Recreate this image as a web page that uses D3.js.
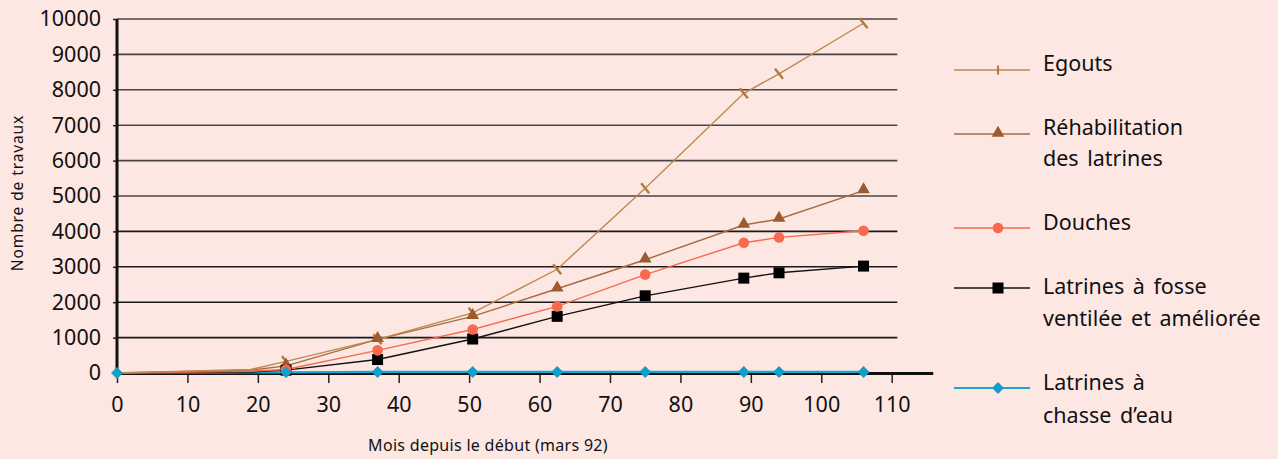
<!DOCTYPE html>
<html>
<head>
<meta charset="utf-8">
<script src="https://cdn.jsdelivr.net/npm/d3@7"></script>
<style>
  html, body { margin: 0; padding: 0; background: #fde7e3; }
  svg { display: block; font-family: "Noto Sans", "DejaVu Sans", sans-serif; }
</style>
</head>
<body>
<svg id="chart" width="1278" height="459"></svg>
<script>
// ---- data ----
const months = [0, 19, 24, 37, 50.5, 62.5, 75, 89, 94, 106];
const unmarkedMonths = [0, 19];        // no visible marker there (except Latrines à chasse d'eau at 0)
const egouts = [0, 100, 330, 950, 1700, 2930, 5220, 7900, 8450, 9880];
const rehabilitation = [0, 80, 200, 950, 1600, 2380, 3200, 4180, 4350, 5150];
const douches = [0, 50, 100, 640, 1230, 1880, 2780, 3680, 3830, 4020];
const latrinesFosse = [0, 30, 80, 380, 960, 1600, 2180, 2680, 2830, 3020];
const latrinesChasse = [0, 20, 20, 30, 30, 30, 30, 30, 30, 30];
const xTicks = [0, 10, 20, 30, 40, 50, 60, 70, 80, 90, 100, 110];
const yTicks = [0, 1000, 2000, 3000, 4000, 5000, 6000, 7000, 8000, 9000, 10000];
const seriesNames = [["Egouts"], ["Réhabilitation", "des latrines"], ["Douches"], ["Latrines à fosse", "ventilée et améliorée"], ["Latrines à", "chasse d\u2019eau"]];
const xTitle = "Mois depuis le début (mars 92)";
const yTitle = "Nombre de travaux";

const series = [
  { name: seriesNames[0], values: egouts, color: "#c0874f", mcolor: "#b5773c", marker: "tick", width: 1.4, skip: unmarkedMonths },
  { name: seriesNames[1], values: rehabilitation, color: "#a96b40", mcolor: "#9c5a2e", marker: "triangle", width: 1.4, skip: unmarkedMonths },
  { name: seriesNames[2], values: douches, color: "#f76a50", mcolor: "#f86a4f", marker: "circle", width: 1.4, skip: unmarkedMonths },
  { name: seriesNames[3], values: latrinesFosse, color: "#111111", mcolor: "#000000", marker: "square", width: 1.4, skip: unmarkedMonths },
  { name: seriesNames[4], values: latrinesChasse, color: "#1ea5cf", mcolor: "#129ec8", marker: "diamond", width: 2.2, skip: unmarkedMonths.filter(m => m !== 0) }
];

const svg = d3.select("#chart");
const x = d3.scaleLinear().domain([0, 110]).range([117, 891.7]);
const y = d3.scaleLinear().domain([0, 10000]).range([373, 19]);

// gridlines
svg.append("g").selectAll("line").data(yTicks.filter(d => d > 0)).join("line")
  .attr("x1", x(0)).attr("x2", x(110.8))
  .attr("y1", d => y(d)).attr("y2", d => y(d))
  .attr("stroke", d => d >= 5000 ? "#4a4444" : "#1a1a1a").attr("stroke-width", 1.6);

// y axis
const yAxis = d3.axisLeft(y).tickValues(yTicks).tickSize(4).tickPadding(12).tickFormat(d3.format("d"));
const gy = svg.append("g").attr("transform", `translate(${x(0)},0)`).call(yAxis);
gy.select(".domain").remove();
gy.selectAll(".tick line").attr("stroke", "#222").attr("stroke-width", 1.5);
gy.selectAll(".tick text").attr("font-size", 21.5).attr("fill", "#111").attr("font-family", "Noto Sans");
svg.append("line").attr("x1", x(0)).attr("x2", x(0)).attr("y1", y(10000)).attr("y2", y(0) + 1)
  .attr("stroke", "#111").attr("stroke-width", 3);

// x axis
const xAxis = d3.axisBottom(x).tickValues(xTicks).tickSize(10).tickPadding(14).tickFormat(d3.format("d"));
const gx = svg.append("g").attr("transform", `translate(0,${y(0)})`).call(xAxis);
gx.select(".domain").remove();
gx.selectAll(".tick line").attr("stroke", "#222").attr("stroke-width", 1.5);
gx.selectAll(".tick text").attr("font-size", 21.5).attr("fill", "#111").attr("font-family", "Noto Sans");
svg.append("line").attr("x1", x(0) - 1.5).attr("x2", x(115.9)).attr("y1", y(0) + 0.5).attr("y2", y(0) + 0.5)
  .attr("stroke", "#111").attr("stroke-width", 3);

// axis titles
svg.append("text").attr("x", 488).attr("y", 447).attr("text-anchor", "middle").attr("dominant-baseline", "middle")
  .attr("font-size", 16).attr("letter-spacing", 0.3).attr("fill", "#111").text(xTitle);
svg.append("text").attr("transform", "translate(19,193) rotate(-90)").attr("text-anchor", "middle").attr("dominant-baseline", "middle")
  .attr("font-size", 15.5).attr("letter-spacing", 0.9).attr("fill", "#111").text(yTitle);

function drawMarker(g, type, cx, cy, color, legend) {
  if (type === "tick") {
    if (legend) {
      g.append("line").attr("x1", cx).attr("x2", cx).attr("y1", cy - 4.5).attr("y2", cy + 4.5)
        .attr("stroke", color).attr("stroke-width", 2.2);
    } else {
      g.append("line").attr("x1", cx - 4).attr("x2", cx + 4).attr("y1", cy - 5).attr("y2", cy + 5)
        .attr("stroke", color).attr("stroke-width", 2.4);
    }
  } else if (type === "triangle") {
    g.append("path").attr("d", d3.symbol(d3.symbolTriangle, 70)()).attr("transform", `translate(${cx},${cy - 1})`).attr("fill", color);
  } else if (type === "circle") {
    g.append("circle").attr("cx", cx).attr("cy", cy).attr("r", 5.3).attr("fill", color);
  } else if (type === "square") {
    g.append("rect").attr("x", cx - 5.5).attr("y", cy - 5.5).attr("width", 11).attr("height", 11).attr("fill", color);
  } else if (type === "diamond") {
    g.append("rect").attr("x", cx - 4.2).attr("y", cy - 4.2).attr("width", 8.4).attr("height", 8.4).attr("fill", color)
      .attr("transform", `rotate(45,${cx},${cy})`);
  }
}

// series lines
const line = d3.line().x((d, i) => x(months[i])).y(d => y(d));
[4, 3, 2, 1, 0].forEach(si => {
  const s = series[si];
  svg.append("g").append("path").attr("d", line(s.values)).attr("fill", "none")
    .attr("stroke", s.color).attr("stroke-width", s.width);
});
// markers (chasse d'eau on top)
[0, 1, 3, 2, 4].forEach(si => {
  const s = series[si];
  const g = svg.append("g");
  s.values.forEach((v, i) => {
    if (s.skip.includes(months[i])) return;
    drawMarker(g, s.marker, x(months[i]), y(v), s.mcolor, false);
  });
});

// legend
const legendLineY = [70, 134, 228, 288, 388];
const legendTextY = [[65], [129, 160], [224], [288, 320], [384, 417]];
series.forEach((s, i) => {
  const g = svg.append("g");
  g.append("line").attr("x1", 954).attr("x2", 1030).attr("y1", legendLineY[i]).attr("y2", legendLineY[i])
    .attr("stroke", s.color).attr("stroke-width", s.marker === "diamond" ? 1.8 : 1.5);
  drawMarker(g, s.marker, 998, legendLineY[i], s.mcolor, true);
  s.name.forEach((t, j) => {
    g.append("text").attr("x", 1043).attr("y", legendTextY[i][j]).attr("dominant-baseline", "middle")
      .attr("font-size", 21.5).attr("word-spacing", 3).attr("fill", "#111").text(t);
  });
});
</script>
</body>
</html>
